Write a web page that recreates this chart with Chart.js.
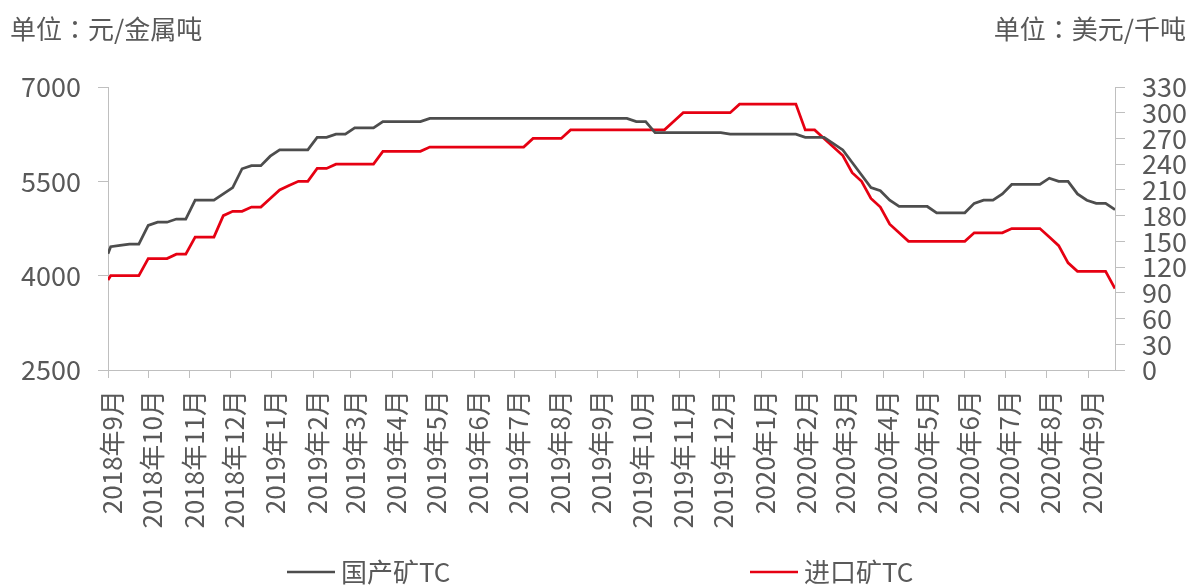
<!DOCTYPE html>
<html>
<head>
<meta charset="utf-8">
<script src="https://cdn.jsdelivr.net/npm/chart.js@4.4.0/dist/chart.umd.min.js"></script>
<style>
  html, body { margin: 0; padding: 0; background: #fff; }
  #wrap { width: 1191px; height: 585px; position: relative; }
</style>
</head>
<body>
<div id="wrap"><canvas id="myChart"></canvas></div>
<script>
// 周度数据日期
const dates = [
  '2018-09-05',
  '2018-09-07','2018-09-14','2018-09-21','2018-09-28','2018-10-05','2018-10-12','2018-10-19','2018-10-26',
  '2018-11-02','2018-11-09','2018-11-16','2018-11-23','2018-11-30','2018-12-07','2018-12-14','2018-12-21','2018-12-28',
  '2019-01-04','2019-01-11','2019-01-18','2019-01-25','2019-02-01','2019-02-08','2019-02-15','2019-02-22',
  '2019-03-01','2019-03-08','2019-03-15','2019-03-22','2019-03-29','2019-04-05','2019-04-12','2019-04-19','2019-04-26',
  '2019-05-03','2019-05-10','2019-05-17','2019-05-24','2019-05-31','2019-06-07','2019-06-14','2019-06-21','2019-06-28',
  '2019-07-05','2019-07-12','2019-07-19','2019-07-26','2019-08-02','2019-08-09','2019-08-16','2019-08-23','2019-08-30',
  '2019-09-06','2019-09-13','2019-09-20','2019-09-27','2019-10-04','2019-10-11','2019-10-18','2019-10-25',
  '2019-11-01','2019-11-08','2019-11-15','2019-11-22','2019-11-29','2019-12-06','2019-12-13','2019-12-20','2019-12-27',
  '2020-01-03','2020-01-10','2020-01-17','2020-01-24','2020-01-31','2020-02-07','2020-02-14','2020-02-21','2020-02-28',
  '2020-03-06','2020-03-13','2020-03-20','2020-03-27','2020-04-03','2020-04-10','2020-04-17','2020-04-24',
  '2020-05-01','2020-05-08','2020-05-15','2020-05-22','2020-05-29','2020-06-05','2020-06-12','2020-06-19','2020-06-26',
  '2020-07-03','2020-07-10','2020-07-17','2020-07-24','2020-07-31','2020-08-07','2020-08-14','2020-08-21','2020-08-28',
  '2020-09-04','2020-09-11','2020-09-18','2020-09-25'
];

// 国产矿TC（元/金属吨，左轴）
const domesticTC = [
  4350,
  4460, 4480, 4500, 4500, 4800, 4850, 4850, 4900, 4900, 5200,
  5200, 5200, 5300, 5400, 5700, 5750, 5750, 5900, 6000, 6000,
  6000, 6000, 6200, 6200, 6250, 6250, 6350, 6350, 6350, 6450,
  6450, 6450, 6450, 6450,
  6500, 6500, 6500, 6500, 6500, 6500, 6500, 6500, 6500, 6500, 6500,
  6500, 6500, 6500, 6500, 6500, 6500, 6500, 6500, 6500, 6500, 6500,
  6450, 6450,
  6275, 6275, 6275, 6275, 6275, 6275, 6275, 6275,
  6250, 6250, 6250, 6250, 6250, 6250, 6250, 6250,
  6200, 6200, 6200, 6100, 6000, 5800, 5600, 5400, 5350, 5200,
  5100, 5100, 5100, 5100, 5000, 5000, 5000, 5000, 5150, 5200,
  5200, 5300, 5450, 5450, 5450, 5450, 5550, 5500, 5500, 5300,
  5200, 5150, 5150, 5050
];

// 进口矿TC（美元/干吨，右轴）
const importTC = [
  105,
  110, 110, 110, 110, 130, 130, 130, 135, 135, 155,
  155, 155, 180, 185, 185, 190, 190, 200, 210, 215,
  220, 220, 235, 235, 240, 240, 240, 240, 240, 255,
  255, 255, 255, 255,
  260, 260, 260, 260, 260, 260, 260, 260, 260, 260, 260,
  270, 270, 270, 270,
  280, 280, 280, 280, 280, 280, 280, 280, 280, 280, 280,
  290,
  300, 300, 300, 300, 300, 300,
  310, 310, 310, 310, 310, 310, 310,
  280, 280, 270, 260, 250, 230, 220, 200, 190, 170, 160,
  150, 150, 150, 150, 150, 150, 150,
  160, 160, 160, 160,
  165, 165, 165, 165,
  155, 145, 125,
  115, 115, 115, 115,
  95
];

const tickLabels = [
  '2018年9月','2018年10月','2018年11月','2018年12月',
  '2019年1月','2019年2月','2019年3月','2019年4月','2019年5月','2019年6月',
  '2019年7月','2019年8月','2019年9月','2019年10月','2019年11月','2019年12月',
  '2020年1月','2020年2月','2020年3月','2020年4月','2020年5月','2020年6月',
  '2020年7月','2020年8月','2020年9月'
];

const leftUnit = '单位：元/金属吨';
const rightUnit = '单位：美元/千吨';

const DAY = 86400000;
const start = Date.parse(dates[0]);
const dayOf = d => (Date.parse(d) - start) / DAY;
// 月度刻度从起始日开始，每月同一天
const monthPos = label => {
  const m = label.match(/(\d+)年(\d+)月/);
  return (Date.UTC(+m[1], +m[2] - 1, 5) - start) / DAY;
};

const FONT = '"Noto Sans CJK SC", "Noto Sans", sans-serif';
const TEXT = '#595959';
const AXIS = '#bfbfbf';

const extraText = {
  id: 'extraText',
  afterDraw(chart) {
    const c = chart.ctx;
    c.save();
    c.fillStyle = TEXT;
    c.textBaseline = 'middle';
    // 冒号居中的字形
    c.font = '26px "Noto Sans CJK TC", ' + FONT;
    c.textAlign = 'left';
    c.fillText(leftUnit, 10, 29);
    c.textAlign = 'right';
    c.fillText(rightUnit, 1186, 29);
    // 图例
    c.font = '26px ' + FONT;
    const legendX = [287, 750];
    chart.data.datasets.forEach((ds, i) => {
      const x = legendX[i], y = 572;
      c.strokeStyle = ds.borderColor;
      c.lineWidth = 2.5;
      c.beginPath();
      c.moveTo(x, y);
      c.lineTo(x + 48, y);
      c.stroke();
      c.textAlign = 'left';
      c.fillText(ds.label, x + 54, y);
    });
    c.restore();
  }
};

const ctx = document.getElementById('myChart').getContext('2d');
new Chart(ctx, {
  type: 'line',
  data: {
    datasets: [{
      label: '国产矿TC',
      data: dates.map((d, i) => ({ x: dayOf(d), y: domesticTC[i] })),
      borderColor: '#4d4d4d',
      backgroundColor: '#4d4d4d',
      borderWidth: 2.75,
      pointRadius: 0,
      tension: 0,
      yAxisID: 'y'
    }, {
      label: '进口矿TC',
      data: dates.map((d, i) => ({ x: dayOf(d), y: importTC[i] })),
      borderColor: '#e60012',
      backgroundColor: '#e60012',
      borderWidth: 2.75,
      pointRadius: 0,
      tension: 0,
      yAxisID: 'y1'
    }]
  },
  options: {
    responsive: true,
    maintainAspectRatio: false,
    animation: false,
    layout: { padding: { top: 87, bottom: 0, left: 0, right: 0 } },
    plugins: {
      legend: { display: false },
      tooltip: { enabled: false }
    },
    scales: {
      x: {
        type: 'linear',
        bounds: 'data',
        min: 0,
        max: dayOf(dates[dates.length - 1]),
        afterBuildTicks: s => { s.ticks = tickLabels.map(l => ({ value: monthPos(l) })); },
        afterFit: s => { s.height = 215; },
        grid: { drawOnChartArea: false, tickLength: 8, color: AXIS },
        border: { color: AXIS },
        ticks: {
          autoSkip: false,
          minRotation: 90,
          maxRotation: 90,
          padding: 12,
          labelOffset: 4,
          color: TEXT,
          font: { family: FONT, size: 26 },
          callback: (v, i) => tickLabels[i]
        }
      },
      y: {
        position: 'left',
        min: 2500,
        max: 7000,
        afterFit: s => { s.width = 108; },
        grid: { drawOnChartArea: false, tickLength: 10, color: AXIS },
        border: { color: AXIS },
        ticks: {
          stepSize: 1500,
          autoSkip: false,
          padding: 17,
          color: TEXT,
          font: { family: FONT, size: 27 },
          callback: v => String(v)
        }
      },
      y1: {
        position: 'right',
        min: 0,
        max: 330,
        afterFit: s => { s.width = 76; },
        grid: { drawOnChartArea: false, tickLength: 10, color: AXIS },
        border: { color: AXIS },
        ticks: {
          stepSize: 30,
          autoSkip: false,
          padding: 17,
          color: TEXT,
          font: { family: FONT, size: 27 },
          callback: v => String(v)
        }
      }
    }
  },
  plugins: [extraText]
});
</script>
</body>
</html>
